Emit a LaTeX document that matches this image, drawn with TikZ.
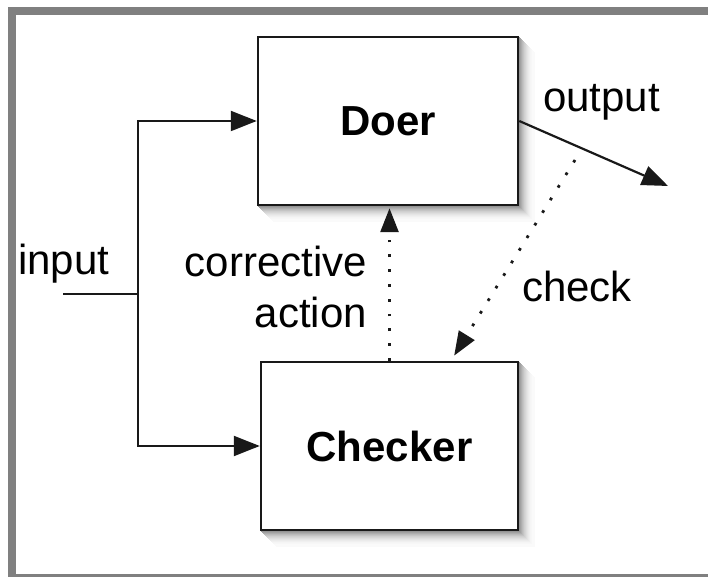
\documentclass[tikz,border=0pt]{standalone}
\usepackage{fontspec}
\setmainfont{Liberation Sans}
\usetikzlibrary{arrows.meta,calc,backgrounds}
\definecolor{framegray}{RGB}{128,128,128}
\tikzset{
  x=1pt,y=1pt,
  box/.style={draw=black!90, line width=2.5pt, fill=white, inner sep=0pt,
    font=\fontsize{42}{50}\selectfont\bfseries},
  lbl/.style={inner sep=0pt, font=\fontsize{42}{50}\selectfont},
  wire/.style={line width=2.2pt, draw=black!90},
  arr/.style={wire, -{Triangle[length=26pt,width=20pt]}},
  dotarr/.style={line width=2.8pt, draw=black!90, dash pattern=on 2.8pt off 12pt,
    -{Triangle[length=24pt,width=18pt]}}
}
\begin{document}
\begin{tikzpicture}
\useasboundingbox (0,0) rectangle (708,577);
% boxes
\node[box, minimum width=260pt, minimum height=168pt] (doer) at (388,456) {Doer};
\node[box, minimum width=257pt, minimum height=168pt] (checker) at (389.5,131) {Checker};
\begin{pgfonlayer}{background}
\fill[white] (0,0) rectangle (708,577);
\foreach \n in {doer,checker}{
  \foreach \k in {16,15,...,1}{
    \pgfmathtruncatemacro\c{2+(16-\k)*(16-\k)*0.18}
    \fill[black!\c] ($(\n.north west)+(\k,-\k)$) rectangle ($(\n.south east)+(\k,-\k)$);
  }
}
\end{pgfonlayer}
% frame
\fill[framegray] (8,562) rectangle (708,570);
\fill[framegray] (8,0) rectangle (16,570);
\fill[framegray] (8,0) rectangle (708,2.5);
% input
\coordinate (in) at (63,283);
\coordinate (split) at (138,283);
\draw[wire] (in) -- (split);
\draw[arr] (split) |- (doer.west);
\draw[arr] (split) |- (checker.west);
% output
\coordinate (out) at (668,391);
\draw[arr] (doer.east) -- (out);
% check
\coordinate (chkstart) at (575,417);
\draw[dotarr, shorten >=6pt] (chkstart) -- ($(checker.north)+(61.5,0)$);
% corrective action
\draw[dotarr, shorten >=2pt] (checker.north) -- (checker.north |- doer.south);
% labels
\node[lbl, anchor=base west] (linput) at (18,302) {input};
\node[lbl, anchor=base west] (loutput) at (543,465) {output};
\node[lbl, anchor=base east] (lcorr) at (367,300) {corrective};
\node[lbl, anchor=base east] (lact) at (367,249) {action};
\node[lbl, anchor=base west] (lcheck) at (522,275) {check};
\end{tikzpicture}
\end{document}
